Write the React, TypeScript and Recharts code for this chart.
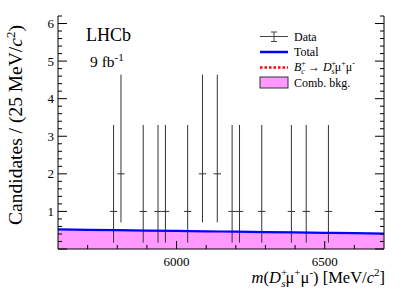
import React from 'react';
import { ComposedChart, XAxis, YAxis, Area, Line, Scatter, ErrorBar } from 'recharts';

// ---- axis ticks ----
const xTicks = [5700, 5800, 5900, 6000, 6100, 6200, 6300, 6400, 6500, 6600];
const xMajorTicks = [6000, 6500];
const yTicks = [0, 0.2, 0.4, 0.6, 0.8, 1, 1.2, 1.4, 1.6, 1.8, 2, 2.2, 2.4, 2.6, 2.8, 3, 3.2, 3.4, 3.6, 3.8, 4, 4.2, 4.4, 4.6, 4.8, 5, 5.2, 5.4, 5.6, 5.8, 6, 6.2];
const yMajorTicks = [0, 1, 2, 3, 4, 5, 6];
const yTickLabels = ['', '1', '2', '3', '4', '5', '6'];

// ---- data points (bin centres, counts, Poisson errors) ----
const binCenters = [5787.5, 5812.5, 5887.5, 5937.5, 5962.5, 6037.5, 6087.5, 6137.5, 6187.5, 6212.5, 6287.5, 6387.5, 6437.5, 6512.5];
const counts = [1, 2, 1, 1, 1, 1, 2, 2, 1, 1, 1, 1, 1, 1];
const errLow = [0.83, 1.29, 0.83, 0.83, 0.83, 0.83, 1.29, 1.29, 0.83, 0.83, 0.83, 0.83, 0.83, 0.83];
const errHigh = [2.3, 2.64, 2.3, 2.3, 2.3, 2.3, 2.64, 2.64, 2.3, 2.3, 2.3, 2.3, 2.3, 2.3];
const binHalfWidth = 12.5;

// ---- fit curves ----
const massGrid = [5600, 5700, 5800, 5900, 6000, 6100, 6200, 6300, 6400, 6500, 6600, 6700];
const combBkg = [0.52, 0.51, 0.5, 0.49, 0.48, 0.47, 0.46, 0.45, 0.44, 0.43, 0.42, 0.41];
const totalFit = [0.52, 0.51, 0.5, 0.49, 0.48, 0.47, 0.46, 0.45, 0.44, 0.43, 0.42, 0.41];

const pointData = binCenters.map((m, i) => ({ m, n: counts[i], ey: [errLow[i], errHigh[i]], ex: binHalfWidth }));
const curveData = massGrid.map((m, i) => ({ m, bkg: combBkg[i], total: totalFit[i] }));

const FONT = '"Liberation Serif", "DejaVu Serif", serif';
const AX = '#000';

const XTickBottom = (props: any) => {
  const { x, y, payload } = props;
  const major = xMajorTicks.includes(payload.value);
  return (
    <g>
      <line x1={x} x2={x} y1={y} y2={y - (major ? 8 : 4)} stroke={AX} strokeWidth={1} />
      {major && (
        <text x={x} y={y + 17} textAnchor="middle" fontSize={13} fontFamily={FONT} fill="#000">
          {payload.value}
        </text>
      )}
    </g>
  );
};

const XTickTop = (props: any) => {
  const { x, y, payload } = props;
  const major = xMajorTicks.includes(payload.value);
  return <line x1={x} x2={x} y1={y} y2={y + (major ? 8 : 4)} stroke={AX} strokeWidth={1} />;
};

const YTickLeft = (props: any) => {
  const { x, y, payload } = props;
  const idx = yMajorTicks.indexOf(payload.value);
  const major = idx >= 0;
  return (
    <g>
      <line x1={x} x2={x + (major ? 9 : 4)} y1={y} y2={y} stroke={AX} strokeWidth={1} />
      {major && yTickLabels[idx] !== '' && (
        <text x={x - 4} y={y + 4.5} textAnchor="end" fontSize={13} fontFamily={FONT} fill="#000">
          {yTickLabels[idx]}
        </text>
      )}
    </g>
  );
};

const YTickRight = (props: any) => {
  const { x, y, payload } = props;
  const major = yMajorTicks.includes(payload.value);
  return <line x1={x} x2={x - (major ? 9 : 4)} y1={y} y2={y} stroke={AX} strokeWidth={1} />;
};

export default function App() {
  return (
    <div style={{ position: 'absolute', left: 0, top: 0, width: 407, height: 298, background: '#fff' }}>
      <ComposedChart
        width={407}
        height={298}
        margin={{ top: 16, right: 13, bottom: 9, left: 18 }}
      >
        <XAxis
          xAxisId="b"
          dataKey="m"
          type="number"
          domain={[5600, 6700]}
          ticks={xTicks}
          interval={0}
          allowDataOverflow
          orientation="bottom"
          height={40}
          tickSize={0}
          tickMargin={0}
          tickLine={false}
          axisLine={{ stroke: AX, strokeWidth: 1 }}
          tick={<XTickBottom />}
        />
        <XAxis
          xAxisId="t"
          dataKey="m"
          type="number"
          domain={[5600, 6700]}
          ticks={xTicks}
          interval={0}
          allowDataOverflow
          orientation="top"
          height={0}
          tickSize={0}
          tickMargin={0}
          tickLine={false}
          axisLine={{ stroke: AX, strokeWidth: 1 }}
          tick={<XTickTop />}
        />
        <YAxis
          yAxisId="l"
          type="number"
          domain={[0, 6.2]}
          ticks={yTicks}
          interval={0}
          allowDataOverflow
          orientation="left"
          width={40}
          tickSize={0}
          tickMargin={0}
          tickLine={false}
          axisLine={{ stroke: AX, strokeWidth: 1 }}
          tick={<YTickLeft />}
        />
        <YAxis
          yAxisId="r"
          type="number"
          domain={[0, 6.2]}
          ticks={yTicks}
          interval={0}
          allowDataOverflow
          orientation="right"
          width={10}
          tickSize={0}
          tickMargin={0}
          tickLine={false}
          axisLine={{ stroke: AX, strokeWidth: 1 }}
          tick={<YTickRight />}
        />
        <Area
          xAxisId="b"
          yAxisId="l"
          data={curveData}
          dataKey="bkg"
          type="monotone"
          fill="#ff99ff"
          fillOpacity={1}
          stroke="none"
          isAnimationActive={false}
        />
        <Scatter
          xAxisId="b"
          yAxisId="l"
          data={pointData}
          dataKey="n"
          shape={() => <g />}
          isAnimationActive={false}
        >
          <ErrorBar dataKey="ey" direction="y" width={0} stroke="#333" strokeWidth={1} isAnimationActive={false} />
          <ErrorBar dataKey="ex" direction="x" width={0} stroke="#333" strokeWidth={1} isAnimationActive={false} />
        </Scatter>
        <Line
          xAxisId="b"
          yAxisId="l"
          data={curveData}
          dataKey="total"
          type="monotone"
          stroke="#0000ff"
          strokeWidth={2.2}
          dot={false}
          isAnimationActive={false}
        />
      </ComposedChart>
      <svg
        width={407}
        height={298}
        style={{ position: 'absolute', left: 0, top: 0, pointerEvents: 'none' }}
        fontFamily={FONT}
      >
        {/* LHCb label */}
        <text x={86} y={41} fontSize={18} fill="#000">LHCb</text>
        <text x={90} y={67} fontSize={15.5} fill="#000">
          9 fb<tspan dy={-6} fontSize={11}>-1</tspan>
        </text>

        {/* Legend */}
        <line x1={260} x2={288} y1={36.5} y2={36.5} stroke="#444" strokeWidth={1} />
        <line x1={274} x2={274} y1={32} y2={41.5} stroke="#444" strokeWidth={1} />
        <line x1={271} x2={277} y1={32} y2={32} stroke="#444" strokeWidth={1} />
        <line x1={271} x2={277} y1={41.5} y2={41.5} stroke="#444" strokeWidth={1} />
        <text x={294} y={40.5} fontSize={12} fill="#000">Data</text>

        <line x1={260} x2={288} y1={52} y2={52} stroke="#0000ff" strokeWidth={2.5} />
        <text x={294} y={56} fontSize={12} fill="#000">Total</text>

        <line x1={260} x2={288} y1={67.5} y2={67.5} stroke="#ff0000" strokeWidth={2.5} strokeDasharray="2.5 2" />
        <text x={294} y={71} fontSize={12} fill="#000">
          <tspan fontStyle="italic">B</tspan>
          <tspan dy={-5} fontSize={8}>+</tspan>
          <tspan dx={-4.5} dy={8} fontSize={8} fontStyle="italic">c</tspan>
          <tspan dy={-3}> → </tspan>
          <tspan fontStyle="italic">D</tspan>
          <tspan dy={-5} fontSize={8}>+</tspan>
          <tspan dx={-4.5} dy={8} fontSize={8} fontStyle="italic">s</tspan>
          <tspan dy={-3}>μ</tspan>
          <tspan dy={-5} fontSize={8}>+</tspan>
          <tspan dy={5}>μ</tspan>
          <tspan dy={-5} fontSize={8}>-</tspan>
        </text>

        <rect x={260} y={77} width={28} height={11} fill="#ff99ff" stroke="#333" strokeWidth={1} />
        <text x={294} y={87} fontSize={12} fill="#000">Comb. bkg.</text>

        {/* X axis title */}
        <text x={385} y={283} textAnchor="end" fontSize={16.5} fill="#000">
          <tspan fontStyle="italic">m</tspan>
          <tspan>(</tspan>
          <tspan fontStyle="italic">D</tspan>
          <tspan dy={-7} fontSize={11}>+</tspan>
          <tspan dx={-6} dy={11} fontSize={11} fontStyle="italic">s</tspan>
          <tspan dy={-4}>μ</tspan>
          <tspan dy={-7} fontSize={11}>+</tspan>
          <tspan dy={7}>μ</tspan>
          <tspan dy={-7} fontSize={11}>-</tspan>
          <tspan dy={7}>) [MeV/</tspan>
          <tspan fontStyle="italic">c</tspan>
          <tspan dy={-7} fontSize={11}>2</tspan>
          <tspan dy={7}>]</tspan>
        </text>

        {/* Y axis title */}
        <text transform="translate(22,125) rotate(-90)" textAnchor="middle" fontSize={19.5} fill="#000">
          Candidates / (25 MeV/<tspan fontStyle="italic">c</tspan>
          <tspan dy={-7} fontSize={13}>2</tspan>
          <tspan dy={7}>)</tspan>
        </text>
      </svg>
    </div>
  );
}
